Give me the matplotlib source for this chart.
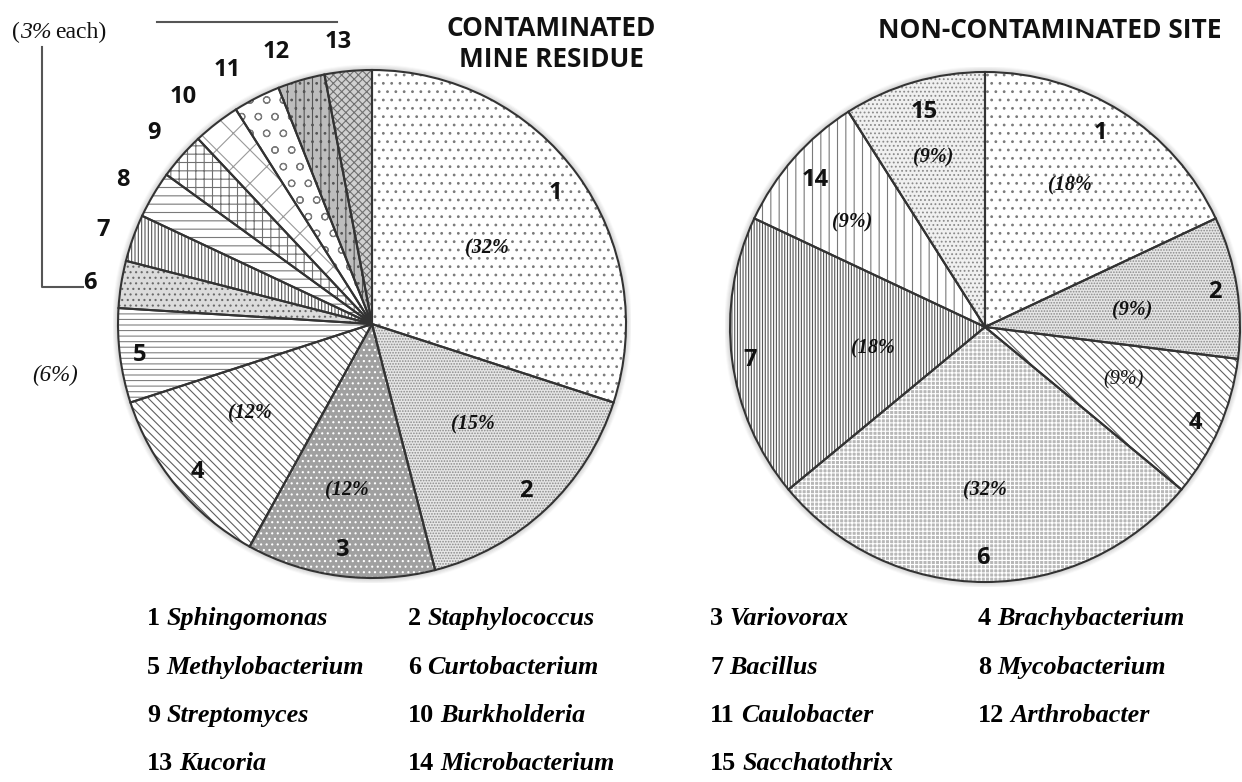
import matplotlib
matplotlib.use("Agg")
import matplotlib.pyplot as plt

plt.rcParams["hatch.linewidth"] = 0.8

# ---------------- data ----------------
left_ids = ["1", "2", "3", "4", "5", "6", "7", "8", "9", "10", "11", "12", "13"]
left_share = [30, 16, 12, 12, 6, 3, 3, 3, 3, 3, 3, 3, 3]
left_pct_labels = ["(32%", "(15%", "(12%", "(12%"]

right_ids = ["1", "2", "4", "6", "7", "14", "15"]
right_share = [18, 9, 9, 28, 18, 9, 9]
right_pct_labels = ["(18%", "(9%)", "(9%)", "(32%", "(18%", "(9%)", "(9%)"]

genus_numbers = [str(i) for i in range(1, 16)]
genus_names = ["Sphingomonas", "Staphylococcus", "Variovorax", "Brachybacterium",
               "Methylobacterium", "Curtobacterium", "Bacillus", "Mycobacterium",
               "Streptomyces", "Burkholderia", "Caulobacter", "Arthrobacter",
               "Kucoria", "Microbacterium", "Sacchatothrix"]

title_left = "CONTAMINATED\nMINE RESIDUE"
title_right = "NON-CONTAMINATED SITE"

# ---------------- styles per genus ----------------
style = {
    "1": ("white", "#7a7a7a", ".."),
    "2": ("#e6e6e6", "#8a8a8a", "......"),
    "3": ("#a0a0a0", "white", "..."),
    "4": ("white", "#606060", "\\\\\\\\"),
    "5": ("white", "#808080", "---"),
    "6": ("#dcdcdc", "#6a6a6a", "..."),
    "7": ("white", "#555555", "|||||"),
    "8": ("white", "#7a7a7a", "--"),
    "9": ("white", "#707070", "++"),
    "10": ("white", "#9a9a9a", "x"),
    "11": ("white", "#7a7a7a", "o"),
    "12": ("#bdbdbd", "#555555", "||.."),
    "13": ("#d0d0d0", "#707070", "xxxx"),
    "14": ("white", "#7a7a7a", "||"),
    "15": ("#f0f0f0", "#8a8a8a", "...."),
}
style_right = dict(style)
style_right["6"] = ("#b8b8b8", "white", "++++")
style_right["7"] = ("white", "#555555", "||||||")

W, H = 1242, 782
fig = plt.figure(figsize=(W / 100, H / 100), dpi=100)
fig.patch.set_facecolor("white")


def draw_pie(cx, cy, r, shares, ids, sty):
    ax = fig.add_axes([(cx - r) / W, (H - cy - r) / H, 2 * r / W, 2 * r / H])
    for k, a in zip(range(1, 6), [0.10, 0.08, 0.06, 0.04, 0.02]):
        ax.add_patch(plt.Circle((0, 0), 1 + k * 0.004, fill=False,
                                edgecolor="black", alpha=a, linewidth=1.2, zorder=0))
    wedges, _ = ax.pie(shares, startangle=90, counterclock=False,
                       colors=[sty[i][0] for i in ids],
                       wedgeprops=dict(linewidth=0))
    for w, i in zip(wedges, ids):
        w.set_edgecolor(sty[i][1])
        w.set_hatch(sty[i][2])
        w.set_linewidth(0)
    ax.pie(shares, startangle=90, counterclock=False,
           wedgeprops=dict(fill=False, edgecolor="#333333", linewidth=1.5))
    ax.set_xlim(-1.02, 1.02)
    ax.set_ylim(-1.02, 1.02)
    ax.set_aspect("equal")
    ax.axis("off")
    return ax


rL = 254
rR = 255
draw_pie(372, 324, rL * 1.02, left_share, left_ids, style)
draw_pie(985, 327, rR * 1.02, right_share, right_ids, style_right)

ov = fig.add_axes([0, 0, 1, 1])
ov.set_xlim(0, W)
ov.set_ylim(H, 0)
ov.axis("off")
ov.patch.set_visible(False)

sans = "Open Sans"
serif = "Liberation Serif"
renderer = fig.canvas.get_renderer()


def right_end(t):
    bb = t.get_window_extent(renderer=renderer)
    return ov.transData.inverted().transform((bb.x1, bb.y0))[0]


# titles
ov.text(551, 44, title_left, family=sans, weight="bold", size=18.8,
        ha="center", va="center", linespacing=1.15, color="#111111")
ov.text(1050, 30, title_right, family=sans, weight="bold", size=19,
        ha="center", va="center", color="#111111")

# left number labels
left_num_pos = {"1": (555, 193), "2": (526, 491), "3": (342, 550), "4": (197, 472),
                "5": (140, 355), "7": (103, 230), "8": (123, 180), "9": (154, 133),
                "10": (183, 97), "11": (227, 70), "12": (276, 52), "13": (338, 42)}
for k, (x, y) in left_num_pos.items():
    ov.text(x, y, k, family=sans, weight="bold", size=17, ha="center", va="center",
            color="#111111")
ov.text(83, 283, "6", family=sans, weight="bold", size=17, ha="left", va="center",
        color="#111111")

left_pct_pos = [(487, 248), (473, 424), (347, 490), (250, 413)]
for s, (x, y) in zip(left_pct_labels, left_pct_pos):
    ov.text(x, y, s, family=serif, weight="bold", style="italic", size=14.5,
            ha="center", va="center", color="#111111")
ov.text(55, 375, "(6%)", family=serif, style="italic", size=16.5,
        ha="center", va="center", color="#111111")

# "(3% each)"
yb = 38
t1 = ov.text(12, yb, "(", family=serif, size=17, ha="left", va="baseline", color="#111111")
t2 = ov.text(right_end(t1), yb, "3%", family=serif, style="italic", size=17,
             ha="left", va="baseline", color="#111111")
ov.text(right_end(t2) + 4, yb, "each)", family=serif, size=17, ha="left",
        va="baseline", color="#111111")

# bracket lines
ov.plot([157, 337], [22, 22], color="#555555", lw=1.5)
ov.plot([42, 42, 83], [47, 287, 287], color="#555555", lw=1.5)

# right labels
right_num_pos = [(1100, 133), (1215, 292), (1195, 423), (983, 558), (750, 360),
                 (815, 180), (924, 112)]
for k, (x, y) in zip(right_ids, right_num_pos):
    ov.text(x, y, k, family=sans, weight="bold", size=17, ha="center", va="center",
            color="#111111")
right_pct_pos = [(1070, 185), (1132, 310), (1123, 380), (985, 490), (873, 348),
                 (852, 222), (933, 157)]
for idx, (s, (x, y)) in enumerate(zip(right_pct_labels, right_pct_pos)):
    ov.text(x, y, s, family=serif, weight=("normal" if idx == 2 else "bold"),
            style="italic", size=14.5, ha="center", va="center", color="#111111")

# legend
col_x = [147, 408, 710, 978]
row_y = [625, 674, 722, 770]
for n, (num, name) in enumerate(zip(genus_numbers, genus_names)):
    x = col_x[n % 4]
    y = row_y[n // 4]
    t = ov.text(x, y, num, family=serif, weight="bold", size=18.8,
                ha="left", va="baseline", color="black")
    ov.text(right_end(t) + 6, y, name, family=serif, weight="bold", style="italic",
            size=18.8, ha="left", va="baseline", color="black")

fig.savefig("out.png", dpi=100, facecolor="white")
